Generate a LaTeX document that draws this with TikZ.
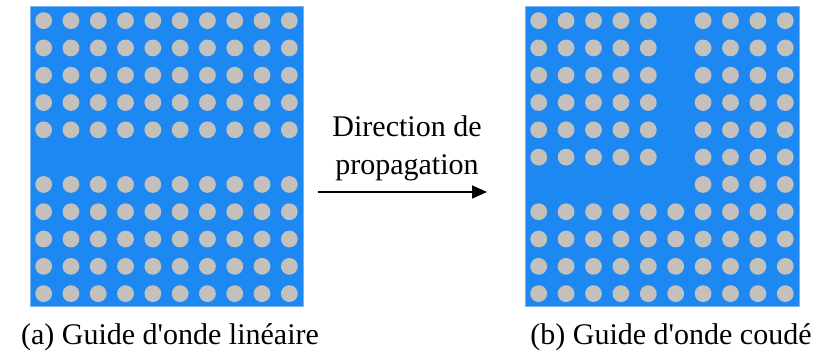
\documentclass[tikz,border=0pt]{standalone}
\usepackage{fontspec}
\setmainfont{Liberation Serif}
\usetikzlibrary{calc,arrows.meta}
\definecolor{crystalblue}{RGB}{30,136,242}
\definecolor{crystaledge}{RGB}{120,180,240}
\definecolor{holegrey}{RGB}{196,192,188}

\begin{document}
\begin{tikzpicture}[x=0.5pt,y=-0.5pt,
  slab/.style={fill=crystalblue,draw=crystaledge,line width=0.5pt},
  hole/.style={fill=holegrey},
  caption/.style={anchor=base,font=\fontsize{15}{19}\selectfont},
  label/.style={align=center,font=\fontsize{15}{19}\selectfont}]
\useasboundingbox (0,0) rectangle (825,356);
% (a) straight guide: one row removed
\begin{scope}[shift={(30,7)}]
  \draw[slab] (0,0) rectangle (273,300);
  \foreach \col in {0,...,9}
    \foreach \row in {0,...,10} {
      \ifnum\row=5 \else
        \fill[hole] (\col*27.3+13.65,\row*27.3+13.65) circle[radius=4.2pt];
      \fi
    }
\end{scope}
% (b) bent guide: row 7 (left part) and column 6 (top part) removed
\begin{scope}[shift={(525,7)}]
  \draw[slab] (0,0) rectangle (274,300);
  \foreach \col in {0,...,9}
    \foreach \row in {0,...,10} {
      \pgfmathtruncatemacro\gap{(\col==5 && \row<7) || (\row==6 && \col<6)}
      \ifnum\gap=0
        \fill[hole] (\col*27.4+13.7,\row*27.3+13.65) circle[radius=4.2pt];
      \fi
    }
\end{scope}
\node[label] (dirlabel) at (407,148) {Direction de\\propagation};
\coordinate (arrowstart) at (318,192);
\coordinate (arrowend) at (487,192);
\draw[line width=0.8pt,-{Triangle[length=7.5pt,width=6.5pt]}] (arrowstart) -- (arrowend);
\node[caption] (capa) at (170,345) {(a) Guide d\textquotesingle onde linéaire};
\node[caption] (capb) at (671,345) {(b) Guide d\textquotesingle onde coudé};
\end{tikzpicture}
\end{document}
